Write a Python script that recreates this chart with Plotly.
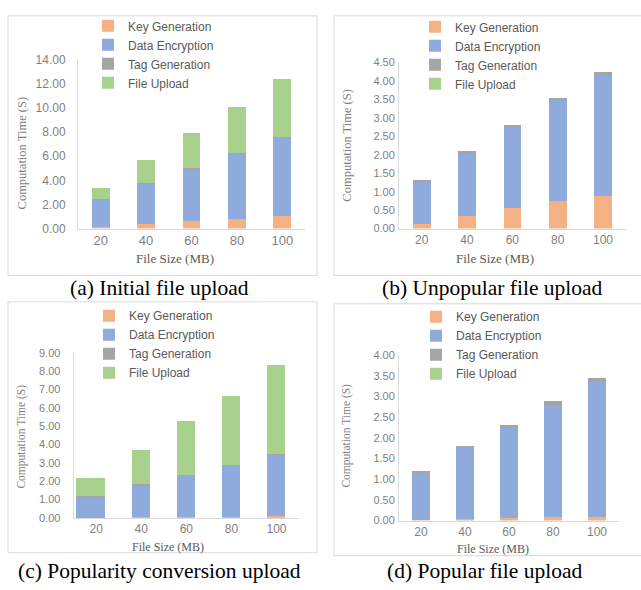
import plotly.graph_objects as go

W, H = 641, 590

categories = ["20", "40", "60", "80", "100"]
series_names = ["Key Generation", "Data Encryption", "Tag Generation", "File Upload"]

# (a) Initial file upload
a_key = [0.11, 0.36, 0.62, 0.79, 1.04]
a_enc = [2.30, 3.37, 4.37, 5.46, 6.50]
a_tag = [0.02, 0.03, 0.04, 0.05, 0.06]
a_upl = [0.95, 1.92, 2.92, 3.79, 4.84]

# (b) Unpopular file upload
b_key = [0.12, 0.35, 0.55, 0.74, 0.89]
b_enc = [1.14, 1.68, 2.19, 2.73, 3.28]
b_tag = [0.02, 0.06, 0.06, 0.07, 0.08]
b_upl = [0.0, 0.0, 0.0, 0.0, 0.0]

# (c) Popularity conversion upload
c_key = [0.02, 0.03, 0.06, 0.07, 0.10]
c_enc = [1.16, 1.76, 2.25, 2.78, 3.29]
c_tag = [0.03, 0.04, 0.05, 0.06, 0.07]
c_upl = [0.94, 1.86, 2.93, 3.76, 4.88]

# (d) Popular file upload
d_key = [0.01, 0.03, 0.05, 0.08, 0.09]
d_enc = [1.14, 1.72, 2.20, 2.72, 3.27]
d_tag = [0.03, 0.03, 0.07, 0.09, 0.10]
d_upl = [0.0, 0.0, 0.0, 0.0, 0.0]

captions = ["(a) Initial file upload", "(b) Unpopular file upload",
            "(c) Popularity conversion upload", "(d) Popular file upload"]
y_title = "Computation Time (S)"
x_title = "File Size (MB)"

colors = ["#F4B183", "#8FAADC", "#A5A5A5", "#A9D18E"]

def px(x):
    return x / W

def py(y):
    return 1 - y / H

panels = [
    dict(data=[a_key, a_enc, a_tag, a_upl], xd=(78, 305), yd=(227, 54), rng=14, dtick=2,
         width=None, offset=None, tfs=12, ystand=9, leg=(88, 48.5),
         box=(8, 9, 317, 275), ytx=(22, 150), xtx=(175, 258), cap=(159, 288), tsz=12.5),
    dict(data=[b_key, b_enc, b_tag, b_upl], xd=(399, 625.7), yd=(227, 56.7), rng=4.5, dtick=0.5,
         width=None, offset=None, tfs=11, ystand=1, leg=(415, 49.5),
         box=(334, 9, 645, 275), ytx=(347, 142), xtx=(495, 258), cap=(492, 288), tsz=12.5),
    dict(data=[c_key, c_enc, c_tag, c_upl], xd=(73.7, 299), yd=(523.3, 354.3), rng=9, dtick=1,
         width=[0.65, 0.4, 0.4, 0.4, 0.4], offset=[-0.45, -0.2, -0.2, -0.2, -0.2],
         tfs=11, ystand=10, leg=(89, 345.5),
         box=(8, 302, 317, 559), ytx=(22, 440), xtx=(168, 553), cap=(159, 578), tsz=11.5),
    dict(data=[d_key, d_enc, d_tag, d_upl], xd=(399, 619), yd=(526, 356.7), rng=4, dtick=0.5,
         width=None, offset=None, tfs=11, ystand=1, leg=(416, 346.5),
         box=(334, 304, 645, 562), ytx=(347, 439), xtx=(493, 555), cap=(484, 578), tsz=11.5),
]

fig = go.Figure()
layout = dict(
    width=W, height=H, margin=dict(l=0, r=0, t=0, b=0),
    paper_bgcolor="white", plot_bgcolor="white", barmode="stack",
    shapes=[], annotations=[],
)

tick_color = "#7F7F7F"
axis_color = "#D9D9D9"

for i, p in enumerate(panels):
    n = "" if i == 0 else str(i + 1)
    legname = "legend" if i == 0 else "legend" + str(i + 1)
    for name, vals, col in zip(series_names, p["data"], colors):
        kw = {}
        if p["width"] is not None:
            kw["width"] = p["width"]
            kw["offset"] = p["offset"]
        else:
            kw["width"] = 0.39
        fig.add_trace(go.Bar(
            x=categories, y=vals, name=name, marker=dict(color=col, line=dict(width=0)),
            xaxis="x" + n, yaxis="y" + n, legend=legname, showlegend=True, **kw))
    layout["xaxis" + n] = dict(
        domain=[px(p["xd"][0]), px(p["xd"][1])], anchor="y" + n, type="category",
        range=[-0.5, 4.5], showline=True, linecolor=axis_color, linewidth=1,
        showgrid=False, zeroline=False, ticks="", ticklabelstandoff=0,
        tickfont=dict(family="Liberation Sans", size=p["tfs"] + 1, color=tick_color),
        fixedrange=True)
    layout["yaxis" + n] = dict(
        domain=[py(p["yd"][0]), py(p["yd"][1])], anchor="x" + n,
        range=[0, p["rng"]], dtick=p["dtick"], tick0=0, tickformat=".2f",
        showline=True, linecolor=axis_color, linewidth=1, showgrid=False, zeroline=False,
        ticks="", ticklabelstandoff=p["ystand"],
        tickfont=dict(family="Liberation Sans", size=p["tfs"], color=tick_color),
        fixedrange=True)
    layout[legname] = dict(
        x=px(p["leg"][0]), y=py(p["leg"][1]), xanchor="left", yanchor="middle",
        bgcolor="rgba(0,0,0,0)", borderwidth=0, traceorder="normal",
        font=dict(family="Liberation Sans", size=12, color="#595959"))
    b = p["box"]
    layout["shapes"].append(dict(
        type="rect", xref="paper", yref="paper",
        x0=px(b[0]), x1=px(b[2]), y0=py(b[3]), y1=py(b[1]),
        line=dict(color=axis_color, width=1), fillcolor="rgba(0,0,0,0)", layer="below"))
    layout["annotations"].append(dict(
        text=y_title, textangle=-90, xref="paper", yref="paper",
        x=px(p["ytx"][0]), y=py(p["ytx"][1]), xanchor="center", yanchor="middle",
        showarrow=False, font=dict(family="Liberation Serif", size=p["tsz"], color="#7F7F7F")))
    layout["annotations"].append(dict(
        text=x_title, xref="paper", yref="paper",
        x=px(p["xtx"][0]), y=py(p["xtx"][1]), xanchor="center", yanchor="middle",
        showarrow=False, font=dict(family="Liberation Serif", size=p["tsz"] + 0.5, color="#595959")))
    layout["annotations"].append(dict(
        text=captions[i], xref="paper", yref="paper",
        x=px(p["cap"][0]), y=py(p["cap"][1]), xanchor="center", yanchor="middle",
        showarrow=False, font=dict(family="Liberation Serif", size=21.5, color="#000000")))

fig.update_layout(**layout)
fig.write_html("out.html")
